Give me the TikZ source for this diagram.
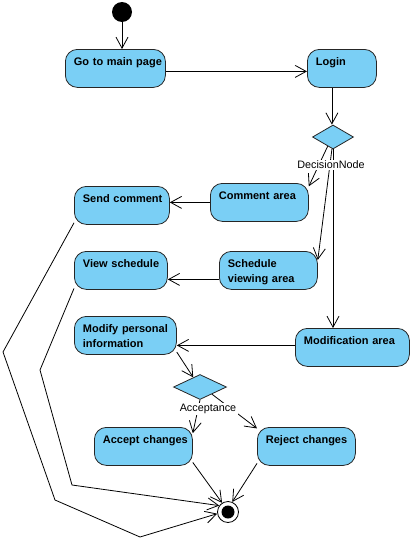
\documentclass[tikz,border=0pt]{standalone}
\usepackage{fontspec}
\setmainfont{Liberation Sans}
\usetikzlibrary{shapes.geometric,arrows.meta}
\definecolor{actblue}{RGB}{122,207,245}

\begin{document}
\begin{tikzpicture}[x=1pt, y=-1pt, every node/.style={font=\fontsize{10.8}{12}\selectfont}]
\tikzstyle{box}=[draw=black!85, fill=actblue, line width=0.8pt, rounded corners=12pt, anchor=north west, align=left, inner xsep=8.5pt, inner ysep=4pt, text height=12.5pt, text depth=17.5pt, font=\fontsize{11}{15}\selectfont\bfseries]
\tikzstyle{decision}=[diamond, draw=black!85, fill=actblue, line width=0.8pt, inner sep=0pt]
\tikzstyle{flow}=[line width=0.8pt, -{Straight Barb[length=11pt, width=12pt]}]
\tikzstyle{note}=[fill=white, inner sep=1.5pt]
\useasboundingbox (0,0) rectangle (414,541);

\node[circle, fill=black, minimum size=20pt, inner sep=0pt] (start) at (122,12) {};
\node[box, text width=83pt] (go) at (65,49) {\mbox{Go to main page}};
\node[box, text width=52pt] (login) at (307,49) {Login};
\node[decision, minimum width=41pt, minimum height=24pt] (d1) at (333,137) {};
\node[box, text width=81pt] (comment) at (210,183) {\mbox{Comment area}};
\node[box, text width=78pt] (send) at (74,186) {\mbox{Send comment}};
\node[box, text width=81pt] (sched) at (219,251) {Schedule\\\mbox{viewing area}};
\node[box, text width=76pt] (view) at (74,251) {\mbox{View schedule}};
\node[box, text width=97pt] (modif) at (295,328) {\mbox{Modification area}};
\node[box, text width=85pt] (modify) at (74,316) {\mbox{Modify personal}\\information};
\node[decision, minimum width=53pt, minimum height=25pt] (d2) at (200,387) {};
\node[box, text width=81pt] (accept) at (94,427) {\mbox{Accept changes}};
\node[box, text width=81pt] (reject) at (257,427) {\mbox{Reject changes}};
\node[circle, draw=black, fill=white, line width=0.8pt, minimum size=21pt, inner sep=0pt,
  path picture={\fill[black] (path picture bounding box.center) circle (6.5pt);}] (end) at (228,512) {};

\coordinate (sc1) at (3,352);
\coordinate (sc2) at (55,500);
\coordinate (sc3) at (140,537);
\coordinate (vs1) at (40,370);
\coordinate (vs2) at (72,485);

\draw[flow] (start) -- (start |- go.north);
\draw[flow] ([yshift=-3pt]go.east) -- ([yshift=-3pt]go.east -| login.west);
\draw[flow] ([xshift=-10pt]login.south) -- ([xshift=-10pt]login.south |- d1.north);
\draw[flow] (d1.240) -- (comment.18);
\draw[flow] (d1.265) -- (sched.12);
\draw[flow] (d1.south) -- (d1.south |- modif.north);
\draw[flow] (comment.west) -- (comment.west -| send.east);
\draw[flow] ([yshift=-9pt]sched.west) -- ([yshift=-9pt]sched.west -| view.east);
\draw[flow] ([yshift=2pt]modif.west) -- ([yshift=2pt]modif.west -| modify.east);
\draw[flow] (modify.-18) -- (d2.125);
\draw[flow] (d2.south) -- (accept.15);
\draw[flow] (d2.-31) -- (reject.160);
\draw[flow] (accept.-18) -- (end.123);
\draw[flow] (reject.199) -- (end.67);
\draw[flow] (send.200) -- (sc1) -- (sc2) -- (sc3) -- (end.189);
\draw[flow] (view.201) -- (vs1) -- (vs2) -- (end.144);

\node[note] (d1lab) at (331,165) {DecisionNode};
\node[note] (d2lab) at (208,409) {Acceptance};
\end{tikzpicture}
\end{document}
